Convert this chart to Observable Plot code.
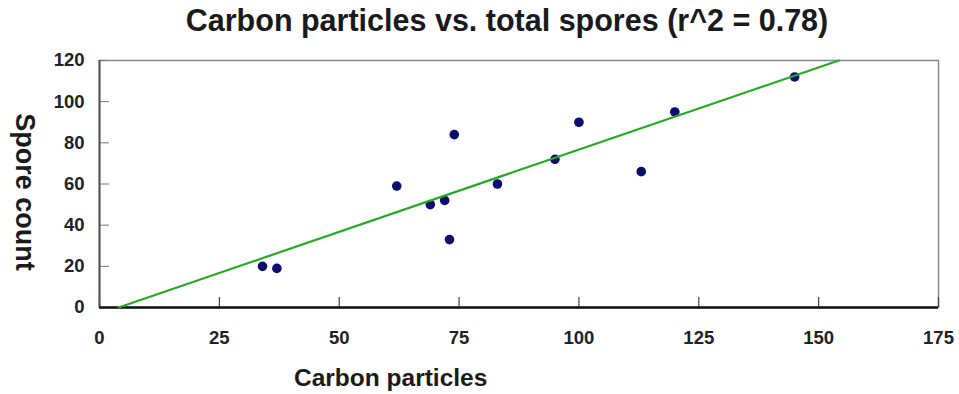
<!DOCTYPE html>
<html>
<head>
<meta charset="utf-8">
<script src="https://cdn.jsdelivr.net/npm/d3@7"></script>
<script src="https://cdn.jsdelivr.net/npm/@observablehq/plot@0.6"></script>
<style>
  html, body { margin: 0; padding: 0; background: #fff; }
  #wrap { position: relative; width: 959px; height: 394px; overflow: hidden; font-family: "Liberation Sans", Arial, sans-serif; color: #1a1a1a; }
  #title { position: absolute; left: 0; width: 1014px; top: 5px; text-align: center; font-size: 30.5px; font-weight: bold; line-height: 30px; white-space: nowrap; }
  #chart { position: absolute; left: 0; top: 50px; }
  #xlabel { position: absolute; left: 294px; top: 366px; font-size: 24.5px; font-weight: bold; line-height: 24px; white-space: nowrap; }
  #ylabel { position: absolute; left: 24px; top: 192px; font-size: 27px; font-weight: bold; line-height: 27px; white-space: nowrap; transform: translate(-50%, -50%) rotate(90deg); }
</style>
</head>
<body>
<div id="wrap">
  <div id="title">Carbon particles vs. total spores (r^2 = 0.78)</div>
  <div id="chart"></div>
  <div id="xlabel">Carbon particles</div>
  <div id="ylabel">Spore count</div>
</div>
<script>
const carbon = [34, 37, 62, 69, 72, 73, 74, 83, 95, 100, 113, 120, 145];
const spores = [20, 19, 59, 50, 52, 33, 84, 60, 72, 90, 66, 95, 112];
const fitCarbon = [4.0, 154.2];
const fitSpores = [0, 120];
const xTicks = [0, 25, 50, 75, 100, 125, 150, 175];
const yTicks = [0, 20, 40, 60, 80, 100, 120];

const points = carbon.map((c, i) => ({c, s: spores[i]}));
const fit = fitCarbon.map((c, i) => ({c, s: fitSpores[i]}));

const chart = Plot.plot({
  width: 959,
  height: 344,
  marginTop: 10,
  marginBottom: 87,
  marginLeft: 99,
  marginRight: 21,
  style: {fontFamily: "'Liberation Sans', Arial, sans-serif", color: "#222", background: "#fff"},
  x: {domain: [0, 175]},
  y: {domain: [0, 120]},
  marks: [
    Plot.frame({stroke: "#8a8a8a", strokeWidth: 1.5}),
    Plot.axisX({ticks: xTicks, tickSize: -10, tickFormat: () => "", stroke: "#444", strokeWidth: 1.2, label: null}),
    Plot.axisX({ticks: xTicks, tickSize: 0, tickPadding: 23, fontSize: 18.5, fontWeight: "bold", fill: "#222", label: null}),
    Plot.axisY({ticks: yTicks, tickSize: -10, tickPadding: 25, fontSize: 18.5, fontWeight: "bold", fill: "#222", stroke: "#777", label: null}),
    Plot.ruleX([0], {stroke: "#555", strokeWidth: 2}),
    Plot.ruleY([0], {stroke: "#111", strokeWidth: 2.5}),
    Plot.dot(points, {x: "c", y: "s", r: 4.8, fill: "#0c0c6e", stroke: "none"}),
    Plot.line(fit, {x: "c", y: "s", stroke: "#27a827", strokeWidth: 2.2})
  ]
});
document.getElementById("chart").appendChild(chart);
</script>
</body>
</html>
